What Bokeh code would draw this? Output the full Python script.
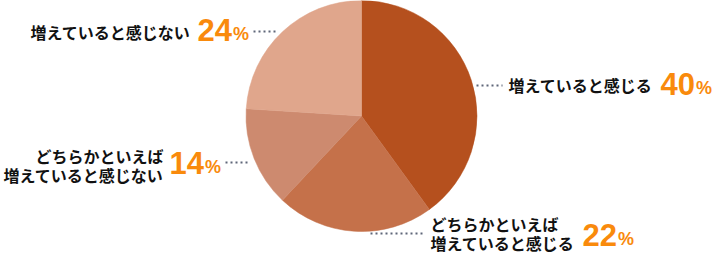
from bokeh.plotting import figure
from bokeh.models import Range1d, ColumnDataSource
from bokeh.core.properties import value
from bokeh.embed import file_html
from bokeh.resources import INLINE
import math

# ---- data ----
categories = [
    "増えていると感じる",
    "どちらかといえば\n増えていると感じる",
    "どちらかといえば\n増えていると感じない",
    "増えていると感じない",
]
values = [40, 22, 14, 24]
colors = ["#B5501E", "#C5714A", "#CD8A6F", "#E0A68C"]

W, H = 724, 254

def Y(py):
    return H - py

p = figure(width=W, height=H, x_range=Range1d(0, W), y_range=Range1d(0, H),
           output_backend="svg", toolbar_location=None, min_border=0,
           min_border_left=0, min_border_right=0, min_border_top=0, min_border_bottom=0)
p.axis.visible = False
p.grid.visible = False
p.outline_line_color = None
p.background_fill_color = "white"
p.border_fill_color = "white"

# ---- pie ----
total = float(sum(values))
starts, ends = [], []
cum = 0.0
for v in values:
    starts.append(math.pi / 2 - 2 * math.pi * cum / total)
    cum += v
    ends.append(math.pi / 2 - 2 * math.pi * cum / total)

cx, cy, r = 361, 115.5, 115.5
src = ColumnDataSource(dict(start=starts, end=ends, color=colors))
p.wedge(x=cx, y=Y(cy), radius=r, start_angle="start", end_angle="end",
        direction="clock", fill_color="color", line_color="color", line_width=0.5,
        source=src)

# ---- label layout (pixel positions) ----
# (align, text_x, line1_center_y, digit_x, digit_center_y, dots(x0,x1,y))
layout = [
    ("left", 508, 84, 660, 83.5, (476, 502, 85)),
    ("left", 430, 223.5, 582, 234.5, (370, 425, 233)),
    ("right", 163, 155, 169, 162.5, (225, 250, 162)),
    ("right", 190, 31, 197, 29.5, (253, 278, 31)),
]

jp_font = value("Noto Sans CJK JP")
num_font = value("Liberation Sans")
orange = "#F98A0C"
dot_color = "#5E6679"

for cat, v, (align, tx, ty, dx, dy, dots) in zip(categories, values, layout):
    lines = cat.split("\n")
    ys = [ty + 19.0 * i for i in range(len(lines))]
    for ln, yy in zip(lines, ys):
        p.text(x=[tx], y=[Y(yy)], text=[ln], text_font=jp_font, text_font_size="16px",
               text_font_style="bold", text_color="#111111", text_align=align,
               text_baseline="middle")
    p.text(x=[dx], y=[Y(dy)], text=[str(v)], text_font=num_font, text_font_size="31px",
           text_font_style="bold", text_color=orange, text_align="left",
           text_baseline="middle")
    pct_x = dx + 17.2 * len(str(v)) + 1
    p.text(x=[pct_x], y=[Y(dy + 4)], text=["%"], text_font=num_font, text_font_size="18px",
           text_font_style="bold", text_color=orange, text_align="left",
           text_baseline="middle")
    x0, x1, yd = dots
    p.line(x=[x0, x1], y=[Y(yd), Y(yd)], line_color=dot_color, line_width=2,
           line_dash="2 3")

open("out.html", "w").write(file_html(p, INLINE))
